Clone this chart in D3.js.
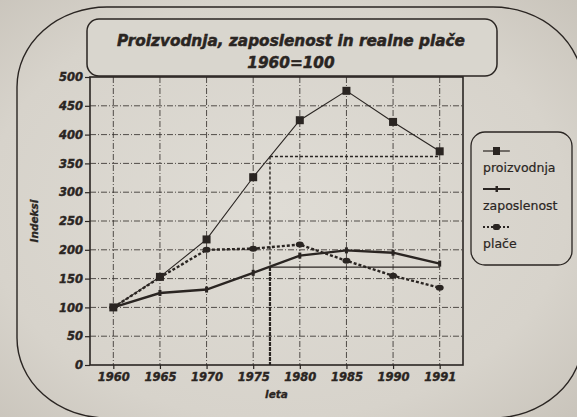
<!DOCTYPE html>
<html>
<head>
<meta charset="utf-8">
<script src="https://cdn.jsdelivr.net/npm/d3@7"></script>
<style>
  html, body { margin: 0; padding: 0; background: #d9d5cd; }
  #chart { width: 577px; height: 417px; }
</style>
</head>
<body>
<div id="chart"></div>
<script>
// Data (indices, 1960 = 100)
const years = ["1960", "1965", "1970", "1975", "1980", "1985", "1990", "1991"];
const proizvodnja = [100, 153, 218, 326, 425, 476, 422, 371];
const zaposlenost = [100, 125, 131, 160, 190, 199, 195, 176];
const place = [100, 152, 200, 202, 209, 181, 155, 134];
const yTicks = [0, 50, 100, 150, 200, 250, 300, 350, 400, 450, 500];
const seriesNames = ["proizvodnja", "zaposlenost", "plače"];

// hand drawn guide lines on the printed chart (position between 1975 and 1980)
const guideIndex = 3.36;
const guideValues = [362, 170];

function drawChart() {
    d3.select("#chart").select("svg").remove();

    const width = 577;
    const height = 417;
    const ink = "#2a2522";

    // plot frame
    const margin = { top: 77, right: 114, bottom: 52, left: 90 };
    const innerWidth = width - margin.left - margin.right;
    const innerHeight = height - margin.top - margin.bottom;

    const svgRoot = d3.select("#chart")
        .append("svg")
        .attr("width", width)
        .attr("height", height);

    // paper background with slight vignette
    const defs = svgRoot.append("defs");
    const grad = defs.append("radialGradient")
        .attr("id", "paper")
        .attr("cx", "48%").attr("cy", "50%").attr("r", "72%");
    grad.append("stop").attr("offset", "0%").attr("stop-color", "#dfdcd5");
    grad.append("stop").attr("offset", "70%").attr("stop-color", "#d7d3cb");
    grad.append("stop").attr("offset", "100%").attr("stop-color", "#c9c4bb");
    svgRoot.append("rect")
        .attr("width", width).attr("height", height)
        .style("fill", "url(#paper)");

    // outer rounded border
    svgRoot.append("rect")
        .attr("x", 17).attr("y", 7)
        .attr("width", 566).attr("height", 411)
        .attr("rx", 90).attr("ry", 80)
        .style("fill", "none")
        .style("stroke", ink)
        .style("stroke-width", 1.4);

    const svg = svgRoot.append("g")
        .attr("transform", `translate(${margin.left},${margin.top})`);

    // Scales (category index on a linear scale so guides can sit between years)
    const x = d3.scaleLinear()
        .domain([-0.5, years.length - 0.5])
        .range([0, innerWidth]);

    const y = d3.scaleLinear()
        .domain([0, 500])
        .range([innerHeight, 0]);

    // Grid
    svg.append("g")
        .selectAll("line")
        .data(yTicks.filter(d => d > 0 && d < 500))
        .enter()
        .append("line")
        .attr("x1", 0).attr("x2", innerWidth)
        .attr("y1", d => y(d)).attr("y2", d => y(d))
        .style("stroke", "#2f2a27")
        .style("stroke-width", 1)
        .style("stroke-dasharray", "6,2,1,2")
        .style("opacity", 0.8);

    svg.append("g")
        .selectAll("line")
        .data(years.map((d, i) => i))
        .enter()
        .append("line")
        .attr("x1", d => x(d)).attr("x2", d => x(d))
        .attr("y1", 0).attr("y2", innerHeight)
        .style("stroke", "#2f2a27")
        .style("stroke-width", 1)
        .style("stroke-dasharray", "6,2,1,2")
        .style("opacity", 0.8);

    // guide lines
    svg.append("line")
        .attr("x1", x(guideIndex)).attr("x2", x(years.length - 1))
        .attr("y1", y(guideValues[0])).attr("y2", y(guideValues[0]))
        .style("stroke", ink).style("stroke-width", 1.4)
        .style("stroke-dasharray", "3,2");
    svg.append("line")
        .attr("x1", x(guideIndex)).attr("x2", x(guideIndex))
        .attr("y1", y(guideValues[0])).attr("y2", y(guideValues[1]))
        .style("stroke", ink).style("stroke-width", 1.4)
        .style("stroke-dasharray", "3,2");
    svg.append("line")
        .attr("x1", x(guideIndex)).attr("x2", x(guideIndex))
        .attr("y1", y(guideValues[1])).attr("y2", innerHeight)
        .style("stroke", ink).style("stroke-width", 2.2)
        .style("stroke-dasharray", "4,1");
    svg.append("line")
        .attr("x1", x(guideIndex)).attr("x2", x(years.length - 1))
        .attr("y1", y(guideValues[1])).attr("y2", y(guideValues[1]))
        .style("stroke", ink).style("stroke-width", 1.3);

    // Frame
    svg.append("rect")
        .attr("width", innerWidth).attr("height", innerHeight)
        .style("fill", "none")
        .style("stroke", ink)
        .style("stroke-width", 1.6);

    // Axes
    const tickFont = "'DejaVu Sans', sans-serif";
    const yAxis = svg.append("g")
        .call(d3.axisLeft(y).tickValues(yTicks).tickSize(5).tickPadding(2));
    yAxis.select(".domain").remove();
    yAxis.selectAll("line").style("stroke", ink).style("stroke-width", 1.2);
    yAxis.selectAll("text")
        .style("fill", ink)
        .style("stroke", ink)
        .style("stroke-width", 0.4)
        .style("font-family", tickFont)
        .style("font-weight", "bold")
        .style("font-style", "italic")
        .style("font-size", "11.5px");

    const xAxis = svg.append("g")
        .attr("transform", `translate(0,${innerHeight})`)
        .call(d3.axisBottom(x)
            .tickValues(years.map((d, i) => i))
            .tickFormat(i => years[i])
            .tickSize(4).tickPadding(4));
    xAxis.select(".domain").remove();
    xAxis.selectAll("line").style("stroke", ink).style("stroke-width", 1.2);
    xAxis.selectAll("text")
        .style("fill", ink)
        .style("stroke", ink)
        .style("stroke-width", 0.4)
        .style("font-family", tickFont)
        .style("font-weight", "bold")
        .style("font-style", "italic")
        .style("font-size", "11.5px");

    // Axis titles
    svg.append("text")
        .attr("x", innerWidth / 2)
        .attr("y", innerHeight + 33)
        .style("fill", ink)
        .style("stroke", ink)
        .style("stroke-width", 0.3)
        .style("font-family", tickFont)
        .style("font-weight", "bold")
        .style("font-style", "italic")
        .style("font-size", "10.5px")
        .style("text-anchor", "middle")
        .text("leta");

    svg.append("text")
        .attr("transform", `translate(-52,${innerHeight / 2}) rotate(-90)`)
        .style("fill", ink)
        .style("stroke", ink)
        .style("stroke-width", 0.3)
        .style("font-family", tickFont)
        .style("font-weight", "bold")
        .style("font-style", "italic")
        .style("font-size", "10.5px")
        .style("text-anchor", "middle")
        .text("Indeksi");

    // Lines
    const line = d3.line()
        .x((d, i) => x(i))
        .y(d => y(d));

    svg.append("path")
        .datum(place)
        .attr("d", line)
        .style("fill", "none")
        .style("stroke", ink)
        .style("stroke-width", 2.4)
        .style("stroke-dasharray", "3,2");

    svg.append("path")
        .datum(zaposlenost)
        .attr("d", line)
        .style("fill", "none")
        .style("stroke", ink)
        .style("stroke-width", 2.4);

    svg.append("path")
        .datum(proizvodnja)
        .attr("d", line)
        .style("fill", "none")
        .style("stroke", ink)
        .style("stroke-width", 1.1);

    // Markers
    svg.selectAll(".m-pro")
        .data(proizvodnja)
        .enter()
        .append("rect")
        .attr("class", "m-pro")
        .attr("x", (d, i) => x(i) - 4)
        .attr("y", d => y(d) - 4)
        .attr("width", 8).attr("height", 8)
        .style("fill", ink);

    svg.selectAll(".m-zap")
        .data(zaposlenost)
        .enter()
        .append("rect")
        .attr("class", "m-zap")
        .attr("x", (d, i) => x(i) - 1.5)
        .attr("y", d => y(d) - 3)
        .attr("width", 3).attr("height", 6)
        .style("fill", ink);

    svg.selectAll(".m-pla")
        .data(place)
        .enter()
        .append("ellipse")
        .attr("class", "m-pla")
        .attr("cx", (d, i) => x(i))
        .attr("cy", d => y(d))
        .attr("rx", 4).attr("ry", 3)
        .style("fill", ink);

    // Title box
    svgRoot.append("rect")
        .attr("x", 87).attr("y", 19)
        .attr("width", 410).attr("height", 57)
        .attr("rx", 12)
        .style("fill", "#d9d6ce")
        .style("stroke", ink)
        .style("stroke-width", 1.5);

    svgRoot.append("text")
        .attr("x", 291).attr("y", 46)
        .style("fill", ink)
        .style("stroke", ink)
        .style("stroke-width", 0.5)
        .style("font-family", tickFont)
        .style("font-weight", "bold")
        .style("font-style", "italic")
        .style("font-size", "15.3px")
        .style("text-anchor", "middle")
        .text("Proizvodnja, zaposlenost in realne plače");

    svgRoot.append("text")
        .attr("x", 291).attr("y", 68)
        .style("fill", ink)
        .style("stroke", ink)
        .style("stroke-width", 0.5)
        .style("font-family", tickFont)
        .style("font-weight", "bold")
        .style("font-style", "italic")
        .style("font-size", "15.3px")
        .style("text-anchor", "middle")
        .text("1960=100");

    // Legend
    const legend = svgRoot.append("g")
        .attr("transform", "translate(471,132)");

    legend.append("rect")
        .attr("width", 101).attr("height", 133)
        .attr("rx", 14)
        .style("fill", "none")
        .style("stroke", ink)
        .style("stroke-width", 1.3);

    const item = legend.selectAll(".item")
        .data(seriesNames)
        .enter()
        .append("g")
        .attr("class", "item")
        .attr("transform", (d, i) => `translate(12,${19 + i * 38})`);

    item.append("line")
        .attr("x1", 0).attr("x2", 27)
        .attr("y1", 0).attr("y2", 0)
        .style("stroke", ink)
        .style("stroke-width", (d, i) => i === 0 ? 1.2 : 2)
        .style("stroke-dasharray", (d, i) => i === 2 ? "2,2" : null);

    item.append("rect")
        .attr("x", (d, i) => i === 0 ? 10 : i === 1 ? 12.5 : 10)
        .attr("y", (d, i) => i === 0 ? -4 : i === 1 ? -3 : -3)
        .attr("width", (d, i) => i === 0 ? 7 : i === 1 ? 2.5 : 7)
        .attr("height", (d, i) => i === 0 ? 8 : 6)
        .attr("rx", (d, i) => i === 2 ? 2 : 0)
        .style("fill", ink);

    item.append("text")
        .attr("x", 0)
        .attr("y", 21)
        .style("fill", ink)
        .style("stroke", ink)
        .style("stroke-width", 0.2)
        .style("font-family", tickFont)
        .style("font-size", "12.5px")
        .text(d => d);
}

drawChart();
</script>
</body>
</html>
